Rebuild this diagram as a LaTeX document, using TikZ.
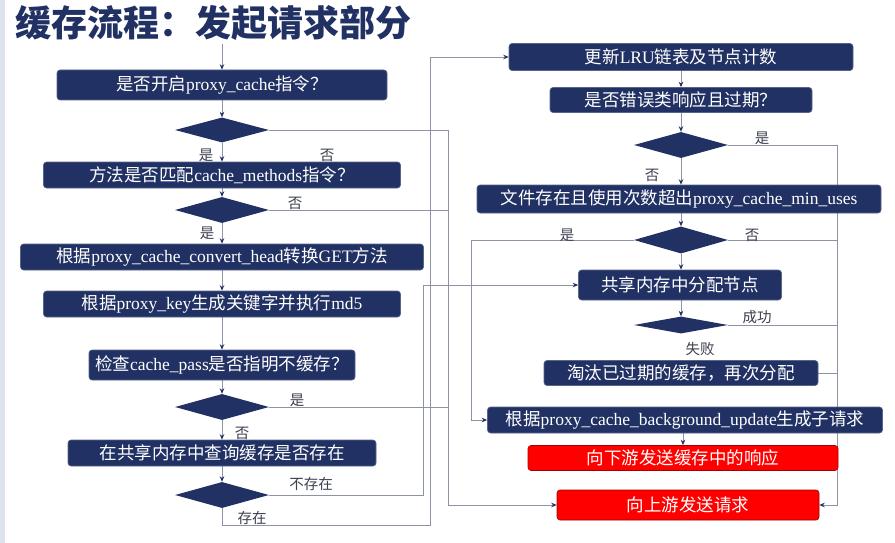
\documentclass[tikz,border=0pt]{standalone}
\usepackage{fontspec}
\setmainfont{Liberation Serif}
\newfontfamily\cjk{Noto Sans CJK SC}
\newcommand\zh[1]{{\cjk #1}}
\usetikzlibrary{shapes.geometric,arrows.meta}
\definecolor{navy}{HTML}{213163}
\definecolor{linegray}{HTML}{8E93A3}
\definecolor{labelgray}{HTML}{3C3F4E}
\definecolor{strip}{HTML}{DCE3EE}
\pgfdeclarelayer{bg}
\pgfdeclarelayer{paper}
\pgfsetlayers{paper,bg,main}
\tikzset{
  box/.style={draw=navy!75!white, line width=0.6pt, fill=navy, rounded corners=3pt, text=white,
    font=\fontsize{17.5}{18}\selectfont, inner sep=0pt, minimum height=26pt},
  redbox/.style={draw=red!65!black, line width=0.6pt, fill=red, rounded corners=3pt, text=white,
    font=\fontsize{17.5}{18}\selectfont, inner sep=0pt, minimum height=26pt},
  dia/.style={diamond, fill=navy, inner sep=0pt, minimum width=94pt, minimum height=26pt},
  lbl/.style={text=labelgray, font=\cjk\fontsize{14.5}{15}\selectfont, inner sep=0pt},
  wire/.style={draw=linegray, line width=0.75pt},
  conn/.style={wire, -{Stealth[length=5.5pt,width=4.5pt,color=navy]}},
}
\begin{document}
\begin{tikzpicture}[x=1pt,y=-1pt]
\useasboundingbox (0,0) rectangle (895,543);
\begin{pgfonlayer}{paper}
\fill[white] (0,0) rectangle (895,543);
\fill[strip] (0,0) rectangle (5,543);
\end{pgfonlayer}
% title
\node[anchor=west, text=navy, inner sep=0pt, font=\cjk\bfseries\fontsize{36}{36}\selectfont] (title) at (15,23) {缓存流程：发起请求部分};

% left column
\coordinate (top) at (222,44);
\node[box, minimum width=330pt, minimum height=30pt] (b1) at (222,85) {\zh{是否开启}proxy\_cache\zh{指令？}};
\node[dia, minimum height=25pt] (d1) at (222,130) {};
\node[box, minimum width=357pt] (b2) at (222,175) {\zh{方法是否匹配}cache\_methods\zh{指令？}};
\node[dia] (d2) at (222,210) {};
\node[box, minimum width=403pt] (b3) at (222,257) {\zh{根据}proxy\_cache\_convert\_head\zh{转换}GET\zh{方法}};
\node[box, minimum width=357pt] (b4) at (222,304) {\zh{根据}proxy\_key\zh{生成关键字并执行}md5};
\node[box, minimum width=266pt, minimum height=30pt] (b5) at (222,365) {\zh{检查}cache\_pass\zh{是否指明不缓存？}};
\node[dia] (d3) at (222,407) {};
\node[box, minimum width=308pt] (b6) at (222,453) {\zh{在共享内存中查询缓存是否存在}};
\node[dia] (d4) at (222,495) {};

% right column
\node[box, minimum width=344pt, minimum height=27pt] (r1) at (681,57) {\zh{更新}LRU\zh{链表及节点计数}};
\node[box, minimum width=262pt, minimum height=25pt] (r2) at (681,100) {\zh{是否错误类响应且过期？}};
\node[dia] (rd1) at (681,145) {};
\node[box, minimum width=404pt, minimum height=28pt] (r3) at (679,199) {\zh{文件存在且使用次数超出}proxy\_cache\_min\_uses};
\node[dia, minimum height=27pt] (rd2) at (681,240) {};
\node[box, minimum width=203pt, minimum height=30pt] (r4) at (680,285) {\zh{共享内存中分配节点}};
\node[dia, minimum height=17pt] (rd3) at (681,325) {};
\node[box, minimum width=274pt, minimum height=25pt] (r5) at (681,373) {\zh{淘汰已过期的缓存，再次分配}};
\node[box, minimum width=395pt] (r6) at (685,420) {\zh{根据}proxy\_cache\_background\_update\zh{生成子请求}};
\node[redbox, minimum width=310pt, minimum height=25pt] (r7) at (683,458) {\zh{向下游发送缓存中的响应}};
\node[redbox, minimum width=262pt, minimum height=30pt] (r8) at (688,505) {\zh{向上游发送请求}};

% routing coordinates
\coordinate (xA) at (448,505);
\coordinate (xB) at (423,495);
\coordinate (xC1) at (222,525);
\coordinate (xC2) at (430,525);
\coordinate (xD) at (837,505);
\coordinate (xE) at (471,420);

\begin{pgfonlayer}{bg}
% left vertical chain
\draw[conn] (top) -- (b1.north);
\draw[conn] (b1.south) -- (d1.north);
\draw[conn] (d1.south) -- (b2.north);
\draw[conn] (b2.south) -- (d2.north);
\draw[conn] (d2.south) -- (b3.north);
\draw[conn] (b3.south) -- (b4.north);
\draw[conn] (b4.south) -- (b5.north);
\draw[conn] (b5.south) -- (d3.north);
\draw[conn] (d3.south) -- (b6.north);
\draw[conn] (b6.south) -- (d4.north);
% no-cache branches to upstream
\draw[conn] (d1.east) -| (xA) -- (r8.west);
\draw[wire] (d2.east) -- (d2.east -| xA);
\draw[wire] (d3.east) -- (d3.east -| xA);
% not exist -> allocate node
\draw[conn] (d4.east) -- (xB) |- (r4.west);
% exist -> update LRU
\draw[conn] (d4.south) -- (xC1) -- (xC2) |- (r1.west);
% right chain
\draw[conn] (r1.south) -- (r2.north);
\draw[conn] (r2.south) -- (rd1.north);
\draw[conn] (rd1.south) -- (rd1.south |- r3.north);
\draw[conn] (r3.south -| rd2.north) -- (rd2.north);
\draw[conn] (rd2.south) -- (rd2.south |- r4.north);
\draw[conn] (r4.south -| rd3.north) -- (rd3.north);
\draw[conn] (rd1.east) -| (xD) -- (r8.east);
\draw[wire] (rd2.east) -- (rd2.east -| xD);
\draw[wire] (rd3.east) -- (rd3.east -| xD);
\draw[wire] (r5.east) -- (r5.east -| xD);
\draw[conn] (rd2.west) -| (xE) -- (r6.west);
\draw[conn] (r6.south -| r7.north) -- (r7.north);
\end{pgfonlayer}

% labels
\node[lbl] (l1) at (206,155) {是};
\node[lbl] (l2) at (327,155) {否};
\node[lbl] (l3) at (295,203) {否};
\node[lbl] (l4) at (207,233) {是};
\node[lbl] (l5) at (297,400) {是};
\node[lbl] (l6) at (242,433) {否};
\node[lbl] (l7) at (311,484) {不存在};
\node[lbl] (l8) at (252,518) {存在};
\node[lbl] (l9) at (762,138) {是};
\node[lbl] (l10) at (652,175) {否};
\node[lbl] (l11) at (567,235) {是};
\node[lbl] (l12) at (752,235) {否};
\node[lbl] (l13) at (757,317) {成功};
\node[lbl] (l14) at (700,349) {失败};
\end{tikzpicture}
\end{document}
